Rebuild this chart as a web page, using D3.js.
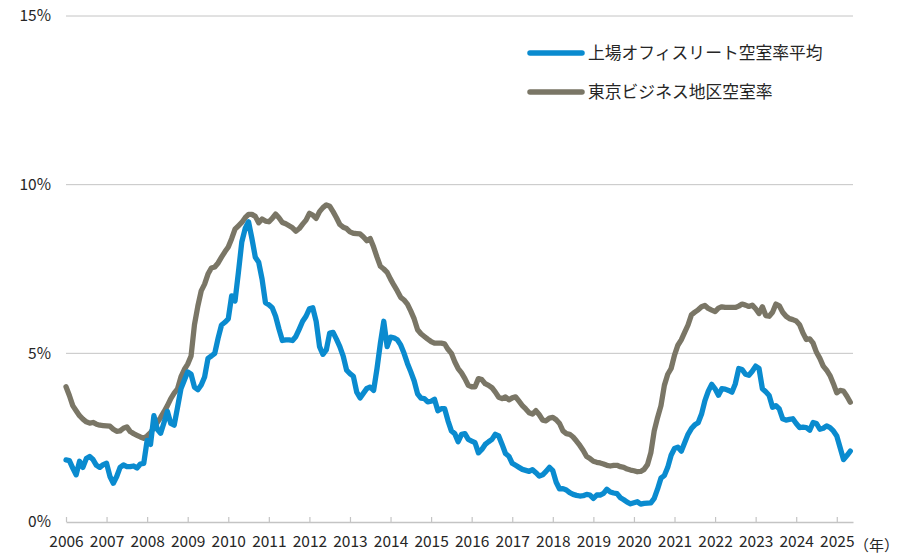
<!DOCTYPE html>
<html><head><meta charset="utf-8">
<script src="https://cdn.jsdelivr.net/npm/d3@7"></script>
<style>
body{margin:0;background:#fff;}
text{font-family:"Noto Sans CJK JP","Noto Sans",sans-serif;fill:#262626;}
</style></head>
<body><svg id="c" width="909" height="555"></svg>
<script>
// Monthly data, Jan 2006 – May 2025 (%)
const startYear = 2006;
const yearTicks = [2006,2007,2008,2009,2010,2011,2012,2013,2014,2015,2016,2017,2018,2019,2020,2021,2022,2023,2024,2025];
const yTicks = [0,5,10,15];
const seriesNames = ["上場オフィスリート空室率平均","東京ビジネス地区空室率"];
const reitVacancy = [
1.84,1.82,1.60,1.40,1.80,1.62,1.88,1.94,1.85,1.68,1.62,1.70,
1.74,1.35,1.15,1.35,1.62,1.69,1.64,1.64,1.66,1.60,1.72,1.74,
2.42,2.30,3.15,2.75,2.63,2.95,3.28,2.92,2.87,3.40,3.95,4.20,
4.45,4.38,4.00,3.92,4.06,4.30,4.85,4.92,5.00,5.45,5.84,5.92,
6.02,6.70,6.55,7.40,8.30,8.70,8.90,8.40,7.85,7.70,7.20,6.50,
6.44,6.35,6.10,5.72,5.38,5.40,5.40,5.38,5.50,5.72,5.95,6.10,
6.32,6.35,5.95,5.20,4.97,5.10,5.60,5.62,5.42,5.20,4.92,4.50,
4.40,4.32,3.85,3.68,3.82,3.96,4.00,3.90,4.55,5.30,5.95,5.20,
5.48,5.46,5.40,5.25,5.00,4.70,4.45,4.18,3.80,3.67,3.66,3.56,
3.58,3.64,3.30,3.36,3.36,3.00,2.70,2.62,2.38,2.60,2.62,2.45,
2.40,2.35,2.05,2.15,2.30,2.38,2.45,2.60,2.55,2.30,2.03,1.95,
1.74,1.68,1.62,1.56,1.53,1.50,1.55,1.46,1.36,1.40,1.50,1.62,
1.52,1.18,0.98,0.99,0.95,0.87,0.82,0.79,0.77,0.78,0.82,0.80,
0.70,0.80,0.80,0.85,0.97,0.89,0.86,0.84,0.72,0.66,0.59,0.54,
0.57,0.60,0.53,0.55,0.56,0.57,0.70,0.98,1.30,1.38,1.62,1.98,
2.18,2.22,2.10,2.35,2.60,2.77,2.88,2.94,3.20,3.60,3.88,4.08,
3.95,3.76,3.95,3.94,3.90,3.85,4.10,4.55,4.52,4.38,4.35,4.47,
4.62,4.55,3.95,3.86,3.75,3.40,3.45,3.35,3.06,3.02,3.04,3.06,
2.92,2.80,2.81,2.80,2.72,2.95,2.92,2.75,2.78,2.85,2.80,2.70,
2.55,2.20,1.85,1.97,2.10
];
const tokyoVacancy = [
4.01,3.75,3.45,3.30,3.15,3.05,2.97,2.93,2.95,2.90,2.87,2.86,
2.85,2.84,2.75,2.69,2.70,2.78,2.82,2.68,2.62,2.57,2.52,2.48,
2.55,2.65,2.80,2.95,3.10,3.27,3.45,3.66,3.82,3.95,4.30,4.52,
4.68,4.92,5.85,6.40,6.85,7.05,7.35,7.53,7.56,7.68,7.85,8.01,
8.15,8.40,8.68,8.78,8.88,9.02,9.12,9.12,9.06,8.87,8.98,8.92,
8.90,9.00,9.13,9.02,8.88,8.84,8.78,8.72,8.62,8.70,8.83,8.95,
9.15,9.10,9.00,9.20,9.32,9.40,9.36,9.20,9.02,8.82,8.74,8.70,
8.60,8.56,8.55,8.54,8.45,8.34,8.40,8.15,7.85,7.58,7.50,7.40,
7.20,7.02,6.85,6.66,6.58,6.46,6.25,6.02,5.70,5.58,5.50,5.42,
5.35,5.30,5.30,5.30,5.28,5.12,5.00,4.75,4.55,4.42,4.25,4.05,
4.01,4.01,4.25,4.22,4.10,4.05,3.98,3.85,3.70,3.66,3.71,3.62,
3.68,3.71,3.58,3.45,3.35,3.24,3.20,3.30,3.18,3.02,3.00,3.08,
3.10,3.03,2.92,2.70,2.62,2.60,2.52,2.40,2.27,2.12,1.94,1.88,
1.80,1.77,1.75,1.72,1.68,1.66,1.68,1.68,1.64,1.62,1.57,1.54,
1.52,1.49,1.50,1.56,1.70,2.05,2.70,3.10,3.45,4.05,4.38,4.55,
4.95,5.24,5.40,5.62,5.84,6.14,6.22,6.29,6.38,6.42,6.33,6.28,
6.24,6.34,6.38,6.36,6.36,6.36,6.36,6.40,6.46,6.43,6.39,6.43,
6.32,6.18,6.38,6.12,6.10,6.22,6.46,6.41,6.22,6.10,6.03,6.00,
5.96,5.85,5.60,5.41,5.43,5.30,5.03,4.85,4.62,4.50,4.34,4.10,
3.83,3.90,3.88,3.73,3.55
];
const colors = ["#0A8BCF","#7A7666"];

const svg = d3.select("#c");
const x = d3.scaleLinear().domain([2006, 2025.4]).range([66, 853]);
const y = d3.scaleLinear().domain([0, 15]).range([522, 16]);

// gridlines
svg.append("g").selectAll("line").data(yTicks.filter(d=>d>0)).join("line")
  .attr("x1", x(2006)).attr("x2", x(2025.4))
  .attr("y1", d=>y(d)).attr("y2", d=>y(d))
  .attr("stroke", "#c4c4c4").attr("stroke-width", 1);

// y labels
svg.append("g").selectAll("text").data(yTicks).join("text")
  .attr("x", 51).attr("y", d=>y(d)).attr("dy","0.35em")
  .attr("text-anchor","end").attr("font-size", 15.5)
  .text(d=>d+"%");

// x axis
const xAxis = d3.axisBottom(x).tickValues(yearTicks).tickFormat(d=>String(d))
  .tickSizeInner(-5).tickSizeOuter(0).tickPadding(14);
const gx = svg.append("g").attr("transform", `translate(0,${y(0)})`).call(xAxis);
gx.select(".domain").attr("stroke","#c4c4c4").attr("stroke-width",1.5);
gx.selectAll(".tick line").attr("stroke","#c4c4c4").attr("stroke-width",1.2);
gx.selectAll(".tick text").attr("font-size",15.5).attr("fill","#262626")
  .style("font-family",'"Noto Sans CJK JP","Noto Sans",sans-serif');
svg.append("text").attr("x", 899).attr("y", y(0)+24).attr("dy","0.35em")
  .attr("text-anchor","end").attr("font-size",15).text("（年）");

// lines
const line = d3.line().x((d,i)=>x(startYear + i/12)).y(d=>y(d));
[tokyoVacancy, reitVacancy].forEach((s,k)=>{
  svg.append("path").datum(s).attr("d", line)
    .attr("fill","none").attr("stroke", k===0?colors[1]:colors[0])
    .attr("stroke-width",5.3).attr("stroke-linejoin","round").attr("stroke-linecap","round");
});

// legend
const lg = svg.append("g");
seriesNames.forEach((n,k)=>{
  const yy = 53 + k*39;
  lg.append("line").attr("x1",530).attr("x2",582).attr("y1",yy).attr("y2",yy)
    .attr("stroke",colors[k]).attr("stroke-width",5.5).attr("stroke-linecap","round");
  lg.append("text").attr("x",588).attr("y",yy).attr("dy","0.35em")
    .attr("font-size",16.8).text(n);
});
</script></body></html>
